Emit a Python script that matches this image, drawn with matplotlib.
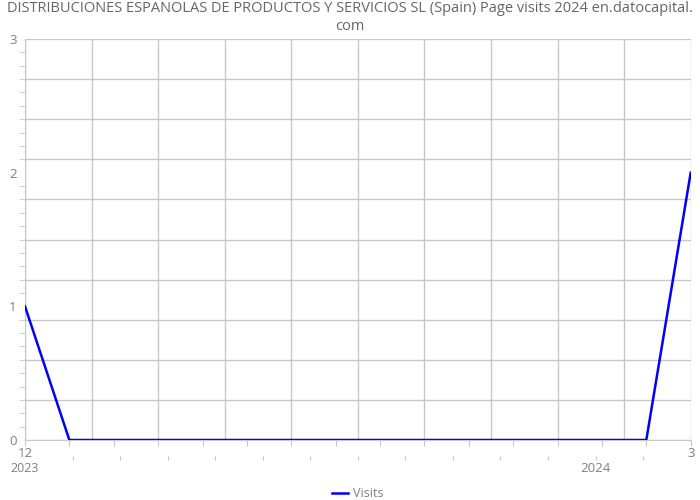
import matplotlib.pyplot as plt
import matplotlib.transforms as mtransforms
import numpy as np

# monthly visits, 2023-12 .. 2025-03
months = ['12', '1', '2', '3', '4', '5', '6', '7', '8', '9', '10', '11', '12', '1', '2', '3']
visits = [1, 0, 0, 0, 0, 0, 0, 0, 0, 0, 0, 0, 0, 0, 0, 2]
year_labels = ['2023', '2024']

title = 'DISTRIBUCIONES ESPANOLAS DE PRODUCTOS Y SERVICIOS SL (Spain) Page visits 2024 en.datocapital.\ncom'

plt.rcParams['font.family'] = ['Open Sans', 'DejaVu Sans']
gray = '#808080'
gridc = '#c8c8c8'

fig = plt.figure(figsize=(7, 5), dpi=100)
ax = fig.add_axes([0.0357, 0.12, 0.951, 0.802])

x = np.arange(len(visits))
n = len(visits) - 1
ax.plot(x, visits, color='#0000ff', lw=1.8, label='Visits', zorder=3)

ax.set_xlim(0, n)
ax.set_ylim(0, 3)

# grid
for gx in np.linspace(0, n, 11):
    ax.axvline(gx, color=gridc, lw=1, zorder=1)
for gy in np.linspace(0, 3, 11):
    ax.axhline(gy, color=gridc, lw=1, zorder=1)

for s in ['top', 'right']:
    ax.spines[s].set_visible(False)
ax.spines['left'].set_color(gridc)
ax.spines['bottom'].set_color(gridc)

ax.set_yticks([0, 1, 2, 3])
ax.set_yticks(np.arange(0, 3.01, 0.1), minor=True)
ax.tick_params(axis='y', which='both', length=4, color=gridc, labelcolor=gray,
               labelsize=9.5, pad=2)
ax.tick_params(axis='y', which='major', length=0, pad=6)

ax.set_xticks(x)
ax.set_xticklabels([months[0]] + [''] * (n - 1) + [months[-1]])
ax.tick_params(axis='x', length=4, color=gridc, labelcolor=gray, labelsize=9.5, pad=1)

# second row of ticks with year labels
sec = ax.secondary_xaxis(-0.04)
sec.set_xticks([k * n / 14 for k in range(1, 14)])
sec.set_xticklabels([''] * 13)
sec.tick_params(length=3, color=gridc)
sec.spines['bottom'].set_visible(False)
trans = mtransforms.blended_transform_factory(ax.transData, ax.transAxes)
ax.text(0, -0.07, year_labels[0], transform=trans, ha='center', va='center',
        color=gray, fontsize=9)
ax.text(12 * n / 14, -0.07, year_labels[1], transform=trans, ha='center', va='center',
        color=gray, fontsize=9.5)

fig.suptitle(title, y=0.998, fontsize=10.5, color='#666666', linespacing=1.25)

ax.legend(loc='upper center', bbox_to_anchor=(0.5, -0.09), frameon=False,
          fontsize=9, labelcolor=gray, handlelength=1.3, handletextpad=0.4)

fig.savefig('out.png', dpi=100)
